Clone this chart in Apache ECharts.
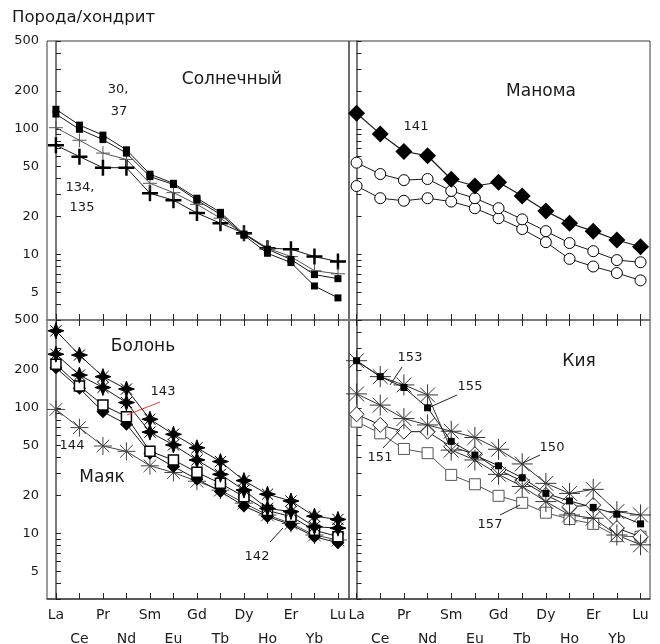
<!DOCTYPE html>
<html>
<head>
<meta charset="utf-8">
<script src="https://cdn.jsdelivr.net/npm/echarts@6/dist/echarts.min.js"></script>
<style>
  html, body { margin: 0; padding: 0; background: #fff; }
  #chart { width: 660px; height: 644px; }
</style>
</head>
<body>
<div id="chart"></div>
<script>
// REE elements along the x axis
const elements = ['La', 'Ce', 'Pr', 'Nd', 'Sm', 'Eu', 'Gd', 'Tb', 'Dy', 'Ho', 'Er', 'Yb', 'Lu'];
// y axis (rock / chondrite), log scale
const yLabelValues = [5, 10, 20, 50, 100, 200, 500];
const yMinorValues = [3, 4, 6, 7, 8, 9, 30, 40, 60, 70, 80, 90, 300, 400];

// Солнечный
const solSq30 = [143, 107, 89, 68, 43.5, 36.8, 28, 21.6, 14.5, 11, 9.1, 6.9, 6.4];
const solSq37 = [131, 99, 82, 64, 41.6, 36, 27, 20.8, 14.2, 10.2, 8.6, 5.6, 4.5];
const solPlus134 = [102, 81, 64, 57, 36.8, 31, 25, 19.4, 14.5, 11.2, 9.6, 7.4, 7.0];
const solPlus135 = [74, 60, 49, 49, 30.6, 27, 21.3, 17.7, 14.7, 11.2, 11, 9.6, 8.75];

// Манома
const man141 = [133, 91, 66, 61, 39.6, 35, 37.5, 29.2, 22.1, 17.7, 15.3, 13, 11.5];
const manCircA = [53.7, 43.6, 39, 39.8, 32, 28, 23.3, 19, 15.3, 12.3, 10.6, 9, 8.65];
const manCircB = [35, 28, 26.7, 28, 26.3, 23.3, 19.4, 15.9, 12.5, 9.2, 8.0, 7.1, 6.2];

// Болонь / Маяк
const bolStarA = [410, 263, 177, 141, 81, 61.5, 48, 37.3, 26.3, 20.5, 18.1, 13.7, 12.9];
const bolStarB = [267, 182, 145, 110, 64, 50.6, 38.4, 29.5, 22.1, 15.8, 14.9, 11.3, 11];
const bol143 = [222, 149, 105, 85, 45, 38.4, 30.6, 25, 19.6, 15.2, 13.6, 10.6, 9.4];
const bol142 = [208, 143, 93, 74, 43.5, 34, 27, 21.5, 16.5, 13.6, 11.7, 9.4, 8.4];
const may144 = [97, 69.5, 49.6, 45, 34.5, 30.5, 26, 22.1, 17.4, 14, 12, 9.7, 8.85];

// Кия
const kiy155 = [237, 177, 145, 100, 54, 42, 34.5, 27.7, 20.8, 18.1, 16.1, 14.2, 11.9];
const kiy153 = [237, 177, 152, 126.6, 46, 38.4, 29.5, 23.6, 17.9, 14, 13.2, 9.7, 8.1];
const kiy150 = [129, 105, 82, 73, 65, 58, 46.7, 35.7, 25, 20.8, 22.4, 14.9, 14];
const kiy151 = [88.7, 73, 64.5, 64.5, 49, 42.7, 32, 26, 20.2, 16.3, 16.8, 11, 9.4];
const kiy157 = [77.5, 62.6, 47, 43.5, 29.2, 24.6, 19.9, 17.5, 14.6, 13, 11.9, 9.5, 9.4];

const FONT = '"DejaVu Sans", Verdana, sans-serif';
const idx = elements.map((_, i) => i);

const plusPath = 'path://M0,-10L0,10M-10,0L10,0';
const asteriskPath = 'path://M0,-10L0,10M-10,0L10,0M-7.07,-7.07L7.07,7.07M-7.07,7.07L7.07,-7.07';
const starPath = 'path://M0,-10L2.6,-2.6L10,0L2.6,2.6L0,10L-2.6,2.6L-10,0L-2.6,-2.6ZM-7,-7L7,7M-7,7L7,-7';

const panels = [
  { left: 47, top: 41, width: 302, height: 279, xmin: -0.38, xmax: 12.47 },
  { left: 349, top: 41, width: 301, height: 279, xmin: -0.32, xmax: 12.4 },
  { left: 47, top: 320, width: 302, height: 279, xmin: -0.38, xmax: 12.47 },
  { left: 349, top: 320, width: 301, height: 279, xmin: -0.32, xmax: 12.4 }
];

const grid = panels.map(p => ({
  left: p.left, top: p.top, width: p.width, height: p.height,
  show: true, borderColor: '#3a3a3a', borderWidth: 1,
  containLabel: false, outerBoundsMode: 'none'
}));

function xAxis(g, position, showLabels, lineColor, lineWidth) {
  const p = panels[g];
  return {
    type: 'value', gridIndex: g, position: position, min: p.xmin, max: p.xmax,
    axisLine: { show: true, onZero: false, lineStyle: { color: lineColor, width: lineWidth } },
    axisTick: { show: true, inside: true, length: 6, customValues: idx, lineStyle: { color: '#222', width: 1 } },
    axisLabel: {
      show: showLabels, customValues: idx, margin: 4, lineHeight: 24,
      fontSize: 14, fontFamily: FONT, color: '#1a1a1a',
      formatter: v => (Math.round(v) % 2 ? '\n' : '') + elements[Math.round(v)]
    },
    splitLine: { show: false }
  };
}

function yAxis(g, showLabels) {
  return {
    type: 'log', logBase: 10, gridIndex: g, min: 3, max: 500,
    axisLine: { show: true, lineStyle: { color: '#7a7a7a', width: 2 } },
    axisTick: { show: true, inside: true, length: 5, customValues: yLabelValues.concat(yMinorValues), lineStyle: { color: '#222', width: 1 } },
    axisLabel: {
      show: showLabels, customValues: yLabelValues, margin: 8,
      fontSize: 13, fontFamily: FONT, color: '#1a1a1a',
      formatter: v => String(Math.round(v))
    },
    splitLine: { show: false },
    minorTick: { show: false }
  };
}

const xAxes = [
  xAxis(0, 'bottom', false, '#7a7a7a', 2),
  xAxis(1, 'bottom', false, '#7a7a7a', 2),
  xAxis(2, 'bottom', true, '#444', 1.5),
  xAxis(3, 'bottom', true, '#444', 1.5),
  xAxis(2, 'top', false, '#7a7a7a', 2),
  xAxis(3, 'top', false, '#7a7a7a', 2)
];
const yAxes = [yAxis(0, true), yAxis(1, false), yAxis(2, true), yAxis(3, false)];

function series(g, values, sym) {
  return {
    type: 'line', xAxisIndex: g, yAxisIndex: g,
    data: values.map((v, i) => [i, v]),
    symbol: sym.symbol, symbolSize: sym.size, symbolKeepAspect: true,
    showSymbol: true,
    lineStyle: { color: sym.line || '#1a1a1a', width: sym.lineWidth || 1 },
    itemStyle: { color: sym.fill, borderColor: sym.stroke || sym.fill, borderWidth: sym.strokeWidth || 0 },
    emphasis: { disabled: true },
    z: sym.z || 2,
    silent: true
  };
}

const seriesList = [
  // Солнечный
  series(0, solPlus135, { symbol: plusPath, size: 16, fill: '#000', stroke: '#000', strokeWidth: 2.5 }),
  series(0, solPlus134, { symbol: plusPath, size: 14, fill: '#555', stroke: '#555', strokeWidth: 1, line: '#555' }),
  series(0, solSq37, { symbol: 'rect', size: 7, fill: '#000' }),
  series(0, solSq30, { symbol: 'rect', size: 7, fill: '#000' }),
  // Манома
  series(1, manCircB, { symbol: 'circle', size: 11, fill: '#fff', stroke: '#000', strokeWidth: 1 }),
  series(1, manCircA, { symbol: 'circle', size: 11, fill: '#fff', stroke: '#000', strokeWidth: 1 }),
  series(1, man141, { symbol: 'diamond', size: 17, fill: '#000', lineWidth: 1.2 }),
  // Болонь / Маяк
  series(2, may144, { symbol: asteriskPath, size: 18, fill: '#444', stroke: '#444', strokeWidth: 1, line: '#444' }),
  series(2, bol142, { symbol: 'diamond', size: 13, fill: '#000' }),
  series(2, bol143, { symbol: 'rect', size: 10, fill: '#fff', stroke: '#000', strokeWidth: 1.5 }),
  series(2, bolStarB, { symbol: starPath, size: 16, fill: '#000', stroke: '#000', strokeWidth: 1 }),
  series(2, bolStarA, { symbol: starPath, size: 16, fill: '#000', stroke: '#000', strokeWidth: 1 }),
  // Кия
  series(3, kiy157, { symbol: 'rect', size: 11, fill: '#fff', stroke: '#555', strokeWidth: 1, line: '#555' }),
  series(3, kiy151, { symbol: 'diamond', size: 15, fill: '#fff', stroke: '#222', strokeWidth: 1 }),
  series(3, kiy150, { symbol: asteriskPath, size: 21, fill: '#333', stroke: '#333', strokeWidth: 1, line: '#333' }),
  series(3, kiy153, { symbol: asteriskPath, size: 21, fill: '#333', stroke: '#333', strokeWidth: 1, line: '#333' }),
  series(3, kiy155, { symbol: 'rect', size: 7, fill: '#000' })
];

function label(text, x, y, size) {
  return {
    type: 'text', z: 100,
    style: { text: text, x: x, y: y, fill: '#1a1a1a', font: (size || 13) + 'px ' + FONT, align: 'center', verticalAlign: 'middle' }
  };
}
function leader(x1, y1, x2, y2, color) {
  return { type: 'line', z: 100, shape: { x1, y1, x2, y2 }, style: { stroke: color || '#222', lineWidth: 1 } };
}

const graphics = [
  { type: 'text', z: 100, style: { text: 'Порода/хондрит', x: 12, y: 18, fill: '#1a1a1a', font: '16.5px ' + FONT, align: 'left', verticalAlign: 'middle' } },
  label('Солнечный', 232, 80, 17),
  label('30,', 118, 90), label('37', 119, 112),
  label('134,', 80, 188), label('135', 82, 208),
  label('Манома', 541, 92, 17),
  label('141', 416, 127),
  label('Болонь', 143, 347, 17),
  label('143', 163, 392), leader(127, 415, 160, 402, '#e0403a'),
  label('144', 72, 446),
  label('Маяк', 102, 478, 17),
  label('142', 257, 557), leader(270, 542, 283, 528),
  label('Кия', 579, 362, 17),
  label('153', 410, 358), leader(402, 367, 390, 385),
  label('155', 470, 387), leader(457, 395, 428, 408),
  label('150', 552, 448), leader(540, 455, 523, 463),
  label('151', 380, 458), leader(383, 448, 400, 430),
  label('157', 490, 525), leader(500, 515, 520, 505)
];

const chart = echarts.init(document.getElementById('chart'), null, { renderer: 'canvas' });
chart.setOption({
  animation: false,
  backgroundColor: '#fff',
  grid: grid,
  xAxis: xAxes,
  yAxis: yAxes,
  series: seriesList,
  graphic: graphics
});
</script>
</body>
</html>
